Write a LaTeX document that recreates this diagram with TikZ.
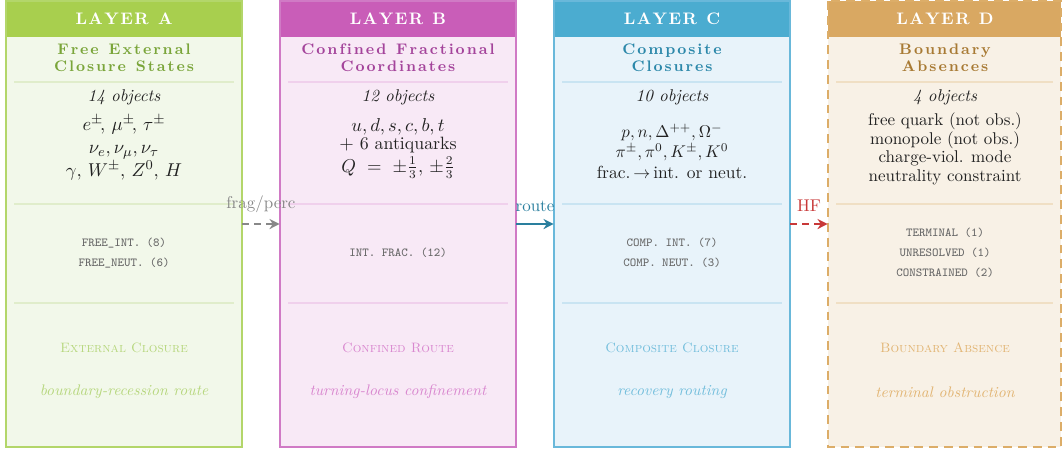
\documentclass[tikz,border=0pt]{standalone}
\usepackage{fontspec}
\usetikzlibrary{arrows.meta}
\definecolor{hA}{HTML}{A8CF4E}\definecolor{bA}{HTML}{B3D66A}\definecolor{fA}{HTML}{F2F8EA}\definecolor{tA}{HTML}{7AA53A}\definecolor{sA}{HTML}{E0EDCB}\definecolor{lA}{HTML}{B7D77E}
\definecolor{hB}{HTML}{C95DB8}\definecolor{bB}{HTML}{D07AC5}\definecolor{fB}{HTML}{F8E9F6}\definecolor{tB}{HTML}{A4449B}\definecolor{sB}{HTML}{F0D0EC}\definecolor{lB}{HTML}{D987CF}
\definecolor{hC}{HTML}{4BACD0}\definecolor{bC}{HTML}{69B8DA}\definecolor{fC}{HTML}{E8F3FA}\definecolor{tC}{HTML}{2C88AA}\definecolor{sC}{HTML}{C9E4F2}\definecolor{lC}{HTML}{73BEDC}
\definecolor{hD}{HTML}{D9A862}\definecolor{bD}{HTML}{DCAD68}\definecolor{fD}{HTML}{F8F1E6}\definecolor{tD}{HTML}{A87A34}\definecolor{sD}{HTML}{F0DFC4}\definecolor{lD}{HTML}{E2B574}
\definecolor{monoc}{HTML}{666666}\definecolor{bodyc}{HTML}{222222}
\definecolor{grayarr}{HTML}{888888}\definecolor{routec}{HTML}{2A7F9E}\definecolor{hfc}{HTML}{C83838}
\makeatletter
\def\lsp#1#2{\def\lsp@k{#1}\kern0.5\dimexpr#1\relax\lsp@#2\@nil\kern-0.5\dimexpr#1\relax}
\def\lsp@#1{\ifx#1\@nil\else#1\kern\lsp@k\relax\expandafter\lsp@\fi}
\makeatother
\tikzset{
  hdrtext/.style={text=white,font=\fontsize{9.8}{11}\selectfont\bfseries,inner sep=0pt},
  titletext/.style={font=\fontsize{9}{10}\selectfont\bfseries,align=center,inner sep=0pt},
  counttext/.style={font=\itshape,text=bodyc,inner sep=0pt},
  bodytext/.style={text=bodyc,align=center,inner sep=0pt},
  bline/.style={text=bodyc,inner sep=0pt,anchor=base,font=\fontsize{10.5}{12}\selectfont},
  monotext/.style={font=\fontsize{7.2}{11.7}\selectfont\ttfamily,text=monoc,inner sep=0pt,align=center},
  labeltext/.style={font=\footnotesize\scshape,inner sep=0pt},
  desctext/.style={font=\small\itshape,inner sep=0pt},
  arrlabel/.style={font=\normalsize,inner sep=0pt,anchor=base},
  boxnode/.style={minimum width={236*0.5882pt},minimum height={446*0.5882pt},inner sep=0pt},
}
\begin{document}
\begin{tikzpicture}[x=0.5882pt,y=-0.5882pt]
\useasboundingbox (0,0) rectangle (1062,453);
% boxes
\foreach \L/\xa/\xb in {A/6/242,B/280/516,C/554/790,D/828/1061}{
  \fill[f\L] (\xa,1) rectangle (\xb,447);
  \fill[h\L] (\xa,1) rectangle (\xb,37);
  \draw[s\L,line width=0.8pt] (\xa+8,82) -- (\xb-8,82);
  \draw[s\L,line width=0.8pt] (\xa+8,204) -- (\xb-8,204);
  \draw[s\L,line width=0.8pt] (\xa+8,303) -- (\xb-8,303);
}
\draw[bA,line width=1.2pt] (6,1) rectangle (242,447);
\draw[bB,line width=1.2pt] (280,1) rectangle (516,447);
\draw[bC,line width=1.2pt] (554,1) rectangle (790,447);
\draw[bD,line width=1.2pt,dash pattern=on 5.2pt off 3.5pt] (828,1) rectangle (1061,447);
\node[boxnode] (boxA) at (124,224) {};
\node[boxnode] (boxB) at (398,224) {};
\node[boxnode] (boxC) at (672,224) {};
\node[boxnode,minimum width={233*0.5882pt}] (boxD) at (944.5,224) {};
% headers
\node[hdrtext] (hA) at (124,19) {\lsp{0.85pt}{LAYER~A}};
\node[hdrtext] (hB) at (398,19) {\lsp{0.85pt}{LAYER~B}};
\node[hdrtext] (hC) at (672,19) {\lsp{0.85pt}{LAYER~C}};
\node[hdrtext] (hD) at (945,19) {\lsp{0.85pt}{LAYER~D}};
% titles
\node[titletext,text=tA] (tiA) at (124,57.5) {\lsp{1.15pt}{Free~External}\\\lsp{1.15pt}{Closure~States}};
\node[titletext,text=tB] (tiB) at (398,57.5) {\lsp{1.15pt}{Confined~Fractional}\\\lsp{1.15pt}{Coordinates}};
\node[titletext,text=tC] (tiC) at (672,57.5) {\lsp{1.15pt}{Composite}\\\lsp{1.15pt}{Closures}};
\node[titletext,text=tD] (tiD) at (945,57.5) {\lsp{1.15pt}{Boundary}\\\lsp{1.15pt}{Absences}};
% counts
\node[counttext] (cA) at (124,97) {14 objects};
\node[counttext] (cB) at (398,97) {12 objects};
\node[counttext] (cC) at (672,97) {10 objects};
\node[counttext] (cD) at (945,97) {4 objects};
% bodies
\node[bodytext,font=\fontsize{11}{13.5}\selectfont] (mA) at (124,148) {$e^{\pm}\!,\,\mu^{\pm}\!,\,\tau^{\pm}$\\ $\nu_e,\nu_\mu,\nu_\tau$\\ $\gamma,\,W^{\pm},\,Z^0,\,H$};
\node[bline] (mB1) at (398,131) {$u,d,s,c,b,t$};
\node[bline] (mB2) at (398,149.5) {$+$ 6 antiquarks};
\node[bline] (mB3) at (398,172) {$Q\ =\ \pm\frac{1}{3},\,\pm\frac{2}{3}$};
\node[bodytext,font=\fontsize{10.3}{12}\selectfont] (mC) at (672,151) {$p,n,\Delta^{++},\Omega^-$\\ $\pi^{\pm},\pi^0,K^{\pm},K^0$\\ frac.\,$\rightarrow$\,int. or neut.};
\node[bodytext,font=\fontsize{10}{11}\selectfont] (mD) at (945,149) {free quark (not obs.)\\ monopole (not obs.)\\ charge-viol. mode\\ neutrality constraint};
% mono
\node[monotext] (oA) at (124,253) {FREE\_INT. (8)\\FREE\_NEUT. (6)};
\node[monotext] (oB) at (398,253) {INT. FRAC. (12)};
\node[monotext] (oC) at (672,253) {COMP. INT. (7)\\COMP. NEUT. (3)};
\node[monotext] (oD) at (945,253) {TERMINAL (1)\\UNRESOLVED (1)\\CONSTRAINED (2)};
% labels
\node[labeltext,text=lA] (lbA) at (124,348) {External Closure};
\node[labeltext,text=lB] (lbB) at (398,348) {Confined Route};
\node[labeltext,text=lC] (lbC) at (672,348) {Composite Closure};
\node[labeltext,text=lD] (lbD) at (945,348) {Boundary Absence};
\node[desctext,text=lA] (dA) at (124,392) {boundary-recession route};
\node[desctext,text=lB] (dB) at (398,392) {turning-locus confinement};
\node[desctext,text=lC] (dC) at (672,392) {recovery routing};
\node[desctext,text=lD] (dD) at (945,392) {terminal obstruction};
% arrows
\coordinate (lp1) at (261,208);
\coordinate (lp2) at (535,211);
\coordinate (lp3) at (809,211);
\draw[grayarr,line width=1.1pt,dash pattern=on 4pt off 3pt,-{Stealth[length=6pt,width=6pt]}] (boxA.east|-0,224) -- (boxB.west|-0,224);
\node[arrlabel,text=grayarr] (al1) at (lp1) {frag/perc};
\draw[routec,line width=1.3pt,-{Stealth[length=6pt,width=6pt]}] (boxB.east|-0,224) -- (boxC.west|-0,224);
\node[arrlabel,text=routec] (al2) at (lp2) {route};
\draw[hfc,line width=1.1pt,dash pattern=on 4pt off 3pt,-{Stealth[length=6pt,width=6pt]}] (boxC.east|-0,224) -- (boxD.west|-0,224);
\node[arrlabel,text=hfc] (al3) at (lp3) {HF};
\end{tikzpicture}
\end{document}
